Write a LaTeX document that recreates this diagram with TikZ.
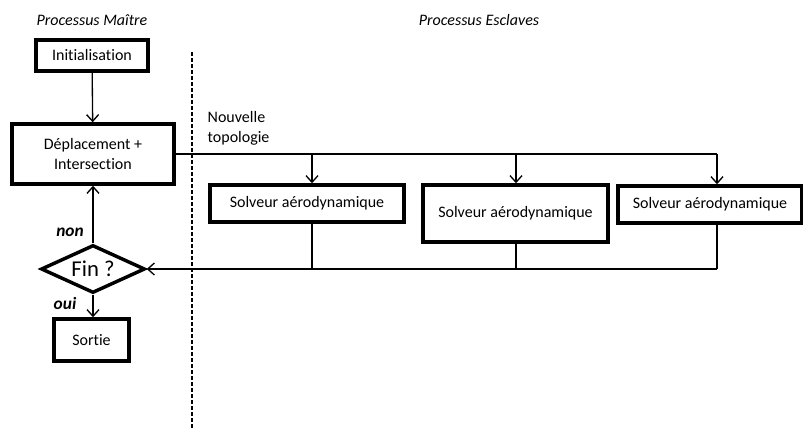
\documentclass[tikz,border=0pt]{standalone}
\usepackage{fontspec}
\setmainfont{Carlito}[Ligatures=NoCommon]
\usetikzlibrary{arrows.meta,positioning,calc,shapes.geometric}

\begin{document}
\begin{tikzpicture}[x=0.75pt,y=-0.75pt,>={Straight Barb[length=5pt,width=9pt]},
  box/.style={draw,line width=2.6pt,align=center,inner sep=2pt,font=\fontsize{12}{15}\selectfont},
  test/.style={draw,line width=2.6pt,diamond,aspect=2.17,inner sep=0pt,minimum width=78pt,minimum height=36pt,font=\fontsize{17}{20}\selectfont},
  lien/.style={line width=1pt},
  titre/.style={font=\fontsize{12}{14}\selectfont\itshape}]
\useasboundingbox (0,0) rectangle (803,428);
\node[titre] (tm) at (92,20) {Processus Ma\^itre};
\node[titre] (te) at (479,20) {Processus Esclaves};
\draw[lien,dash pattern=on 3pt off 1.5pt] (192,52) -- (192,428);
\node[box,minimum width=84pt,minimum height=23.25pt] (init) at (92,55.5) {Initialisation};
\node[box,minimum width=121.5pt,minimum height=45pt] (dep) at (93,154) {D\'eplacement +\\Intersection};
\node[box,minimum width=145.5pt,minimum height=27.75pt] (s1) at (307,203.5) {Solveur a\'erodynamique};
\node[box,minimum width=138.75pt,minimum height=42.75pt] (s2) at (515.5,213.5) {Solveur a\'erodynamique};
\node[box,minimum width=138pt,minimum height=27.75pt] (s3) at (710,204.5) {Solveur a\'erodynamique};
\node[test] (fin) at (93,269) {Fin ?};
\node[box,minimum width=56.25pt,minimum height=31.5pt] (sortie) at (91.5,340) {Sortie};
\node[align=left,anchor=west,font=\fontsize{12}{15}\selectfont] (topo) at (203,128) {Nouvelle\\topologie};
\node[font=\fontsize{13}{15}\selectfont\bfseries\itshape] (non) at (70,232) {non};
\node[font=\fontsize{13}{15}\selectfont\bfseries\itshape] (oui) at (65,303) {oui};
% distribution vers les esclaves
\coordinate (t1) at (312,154);
\coordinate (t2) at (516,154);
\coordinate (t3) at (717,154);
\coordinate (b1) at (312,269);
\coordinate (b2) at (516,269);
\coordinate (b3) at (717,269);
\draw[lien,->] (init) -- (dep);
\draw[lien] (dep.east) -- (t3);
\draw[lien,->] (t1) -- (t1 |- s1.north);
\draw[lien,->] (t2) -- (t2 |- s2.north);
\draw[lien,->] (t3) -- (t3 |- s3.north);
\draw[lien] (b1 |- s1.south) -- (b1);
\draw[lien] (b2 |- s2.south) -- (b2);
\draw[lien] (b3 |- s3.south) -- (b3);
\draw[lien,->] (b3) -- (fin.east);
\draw[lien,->] (fin.north) -- (dep.south -| fin.north);
\draw[lien,->] (fin.south) -- (sortie.north -| fin.south);
\end{tikzpicture}
\end{document}
